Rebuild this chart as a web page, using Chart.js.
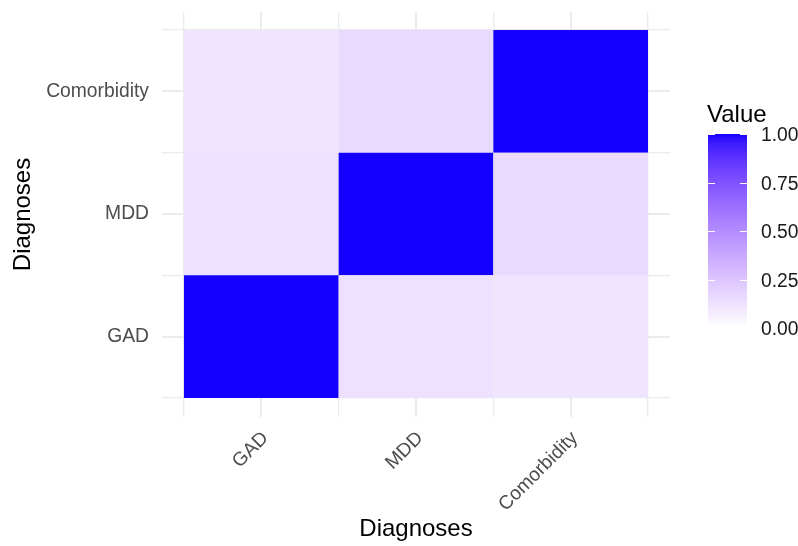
<!DOCTYPE html>
<html>
<head>
<meta charset="utf-8">
<script src="https://cdn.jsdelivr.net/npm/chart.js@4.4.1/dist/chart.umd.min.js"></script>
<style>
  html, body { margin: 0; padding: 0; background: #ffffff; }
  #wrap { width: 798px; height: 546px; }
</style>
</head>
<body>
<div id="wrap"><canvas id="c" width="798" height="546"></canvas></div>
<script>
// ---- data ----
const categories = ["GAD", "MDD", "Comorbidity"];
// one row per y category (GAD bottom, Comorbidity top); values by x category
const rowGAD = [1.00, 0.13, 0.11];
const rowMDD = [0.13, 1.00, 0.16];
const rowComorbidity = [0.11, 0.16, 1.00];
const legendTicks = [0.00, 0.25, 0.50, 0.75, 1.00];
const legendTitle = "Value";
const axisTitle = "Diagnoses";

// ---- colour scale: white -> blue interpolated in CIELAB (like ggplot2) ----
function srgbToLin(c) { c /= 255; return c <= 0.04045 ? c / 12.92 : Math.pow((c + 0.055) / 1.055, 2.4); }
function linToSrgb(c) { c = Math.min(1, Math.max(0, c)); return 255 * (c <= 0.0031308 ? 12.92 * c : 1.055 * Math.pow(c, 1 / 2.4) - 0.055); }
const Xn = 0.95047, Yn = 1.0, Zn = 1.08883;
function rgbToLab(r, g, b) {
  const R = srgbToLin(r), G = srgbToLin(g), B = srgbToLin(b);
  const X = 0.4124 * R + 0.3576 * G + 0.1805 * B;
  const Y = 0.2126 * R + 0.7152 * G + 0.0722 * B;
  const Z = 0.0193 * R + 0.1192 * G + 0.9505 * B;
  const f = t => t > 0.008856 ? Math.cbrt(t) : 7.787 * t + 16 / 116;
  const fx = f(X / Xn), fy = f(Y / Yn), fz = f(Z / Zn);
  return [116 * fy - 16, 500 * (fx - fy), 200 * (fy - fz)];
}
function labToRgb(L, a, b) {
  const fy = (L + 16) / 116, fx = fy + a / 500, fz = fy - b / 200;
  const fi = t => t > 0.206893 ? t * t * t : (t - 16 / 116) / 7.787;
  const X = Xn * fi(fx), Y = Yn * fi(fy), Z = Zn * fi(fz);
  const R = 3.2406 * X - 1.5372 * Y - 0.4986 * Z;
  const G = -0.9689 * X + 1.8758 * Y + 0.0415 * Z;
  const B = 0.0557 * X - 0.2040 * Y + 1.0570 * Z;
  return [linToSrgb(R), linToSrgb(G), linToSrgb(B)];
}
const labLow = rgbToLab(255, 255, 255), labHigh = rgbToLab(20, 0, 255);
function valueColor(v) {
  const t = Math.min(1, Math.max(0, v));
  const L = labLow[0] + (labHigh[0] - labLow[0]) * t;
  const a = labLow[1] + (labHigh[1] - labLow[1]) * t;
  const b = labLow[2] + (labHigh[2] - labLow[2]) * t;
  const [r, g, bb] = labToRgb(L, a, b);
  return `rgb(${Math.round(r)},${Math.round(g)},${Math.round(bb)})`;
}

// ---- datasets (one per row, floating bars spanning one category) ----
// grid ticks are every 0.5 unit, so the bar ruler's minimum gap is 0.5 unit;
// barPercentage 2 makes each tile exactly one category wide.
const rows = [rowGAD, rowMDD, rowComorbidity];
const datasets = rows.map((row, ri) => ({
  label: categories[ri],
  data: row.map((v, ci) => ({ x: ci + 1, y: [ri + 0.5, ri + 1.5], v: v })),
  backgroundColor: row.map(v => valueColor(v)),
  borderWidth: 0,
  barPercentage: 2.0,
  categoryPercentage: 1.0,
  grouped: false
}));

const FONT = "'Liberation Sans', Arial, Helvetica, sans-serif";
const TICK_SIZE = 19.3, TITLE_SIZE = 24;
const gridTicks = [0.5, 1, 1.5, 2, 2.5, 3, 3.5];
function setTicks(scale) { scale.ticks = gridTicks.map(v => ({ value: v })); }
function tickLabel(v) { return Number.isInteger(v) ? categories[v - 1] : ""; }
const gridOpts = {
  color: "#EBEBEB",
  lineWidth: ctx => (ctx.tick && Number.isInteger(ctx.tick.value)) ? 2 : 1.3,
  drawTicks: false,
  offset: false
};

// ---- colourbar legend plugin ----
const colorbar = {
  id: "colorbar",
  afterDraw(chart) {
    const ctx = chart.ctx;
    const x0 = 708, w = 39, yTop = 134, yBot = 328;
    const vy = v => yBot - (yBot - yTop) * v;
    const grad = ctx.createLinearGradient(0, yBot, 0, yTop);
    for (let i = 0; i <= 40; i++) { const t = i / 40; grad.addColorStop(t, valueColor(t)); }
    ctx.save();
    ctx.fillStyle = grad;
    ctx.fillRect(x0, yTop, w, yBot - yTop);
    ctx.strokeStyle = "#ffffff";
    ctx.lineWidth = 1;
    legendTicks.forEach(v => {
      const y = Math.round(vy(v)) + 0.5;
      ctx.beginPath();
      ctx.moveTo(x0, y); ctx.lineTo(x0 + 7, y);
      ctx.moveTo(x0 + w - 7, y); ctx.lineTo(x0 + w, y);
      ctx.stroke();
    });
    ctx.fillStyle = "#1a1a1a";
    ctx.font = TICK_SIZE + "px " + FONT;
    ctx.textAlign = "left";
    ctx.textBaseline = "middle";
    legendTicks.forEach(v => ctx.fillText(v.toFixed(2), 761, vy(v) + 2));
    ctx.fillStyle = "#000000";
    ctx.font = TITLE_SIZE + "px " + FONT;
    ctx.textBaseline = "alphabetic";
    ctx.fillText(legendTitle, 707, 122);
    ctx.restore();
  }
};

new Chart(document.getElementById("c"), {
  type: "bar",
  data: { datasets },
  options: {
    responsive: false,
    animation: false,
    parsing: { xAxisKey: "x", yAxisKey: "y" },
    layout: { padding: { left: 0, right: 128, top: 12, bottom: 0 } },
    plugins: { legend: { display: false }, tooltip: { enabled: false } },
    scales: {
      x: {
        type: "linear",
        min: 0.358, max: 3.642,
        offset: false,
        afterBuildTicks: setTicks,
        afterFit: s => { s.height = 129; s.paddingLeft = 0; s.paddingRight = 0; },
        border: { display: false },
        grid: gridOpts,
        ticks: {
          autoSkip: false, minRotation: 45, maxRotation: 45,
          padding: 10,
          labelOffset: 4,
          color: "#4D4D4D",
          font: { family: FONT, size: TICK_SIZE },
          callback: v => tickLabel(v)
        },
        title: { display: true, text: axisTitle, color: "#000000",
                 font: { family: FONT, size: TITLE_SIZE }, padding: { top: 0, bottom: 2 } }
      },
      y: {
        type: "linear",
        min: 0.345, max: 3.647,
        offset: false,
        afterBuildTicks: setTicks,
        afterFit: s => { s.width = 162; s.paddingTop = 0; s.paddingBottom = 0; },
        border: { display: false },
        grid: gridOpts,
        ticks: {
          autoSkip: false,
          padding: 13,
          color: "#4D4D4D",
          font: { family: FONT, size: TICK_SIZE },
          callback: v => tickLabel(v)
        },
        title: { display: true, text: axisTitle, color: "#000000",
                 font: { family: FONT, size: TITLE_SIZE }, padding: { top: 9, bottom: 0 } }
      }
    }
  },
  plugins: [colorbar]
});
</script>
</body>
</html>
